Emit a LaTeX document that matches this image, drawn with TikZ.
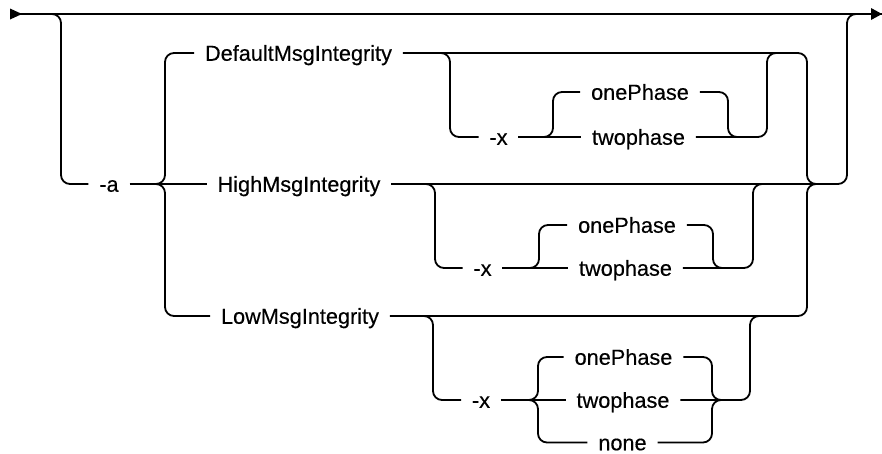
\documentclass[tikz,border=0pt]{standalone}
\usepackage{fontspec}
\setmainfont{Liberation Sans}
\newfontfamily\lblfont{Liberation Sans}[FakeBold=0.35]
\begin{document}
\begin{tikzpicture}[x=1pt,y=-1pt, line width=1.8pt,
  rc/.style={rounded corners=9pt},
  lbl/.style={font=\lblfont\fontsize{21.7}{26}\selectfont, text height=15.5pt, text depth=0pt, inner xsep=10pt, inner ysep=0pt, anchor=center}]
\useasboundingbox (0,0) rectangle (882,453);
% main line with arrowheads
\coordinate (s) at (10,14);
\coordinate (e) at (882,14);
\draw (s) -- (e);
\fill (10,8.5) -- (22,14) -- (10,19.5) -- cycle;
\fill (871,8) -- (882,14) -- (871,20) -- cycle;
% texts
\node[lbl] (a) at (109,184) {-a};
\node[lbl] (d) at (298.5,53) {DefaultMsgIntegrity};
\node[lbl] (h) at (299,184) {HighMsgIntegrity};
\node[lbl] (l) at (300,316) {LowMsgIntegrity};
\node[lbl] (dx) at (498.5,137) {-x};
\node[lbl] (d1) at (640,92) {onePhase};
\node[lbl] (d2) at (638.5,137) {twophase};
\node[lbl] (hx) at (482.5,268) {-x};
\node[lbl] (h1) at (627,225) {onePhase};
\node[lbl] (h2) at (625.5,268) {twophase};
\node[lbl] (lx) at (481,400) {-x};
\node[lbl] (l1) at (623.5,357) {onePhase};
\node[lbl] (l2) at (623,400) {twophase};
\node[lbl] (l3) at (622.5,442.5) {none};
% junction coordinates
\coordinate (lt) at (155,184);
\coordinate (rt) at (817,184);
\coordinate (lt2) at (528,400);
\coordinate (rt2) at (722,400);
% outer optional loop
\draw[rc] (30,14) -| (61,184) -- (a.west);
\draw[rc] (rt) -| (847,14) -- (865,14);
% -a choice group
\draw (a.east) -- (h.west);
\draw[rc] (lt) -| (165,53) -- (d.west);
\draw[rc] (lt) -| (165,316) -- (l.west);
\draw[rc] (d.east) -| (807,184) -- (rt);
\draw[rc] (l.east) -| (807,184) -- (rt);
\draw (h.east) -- (rt);
% Default -x
\draw[rc] (420,53) -| (450,137) -- (dx.west);
\draw (dx.east) -- (d2.west);
\draw[rc] (543,137) -| (553,92) -- (d1.west);
\draw[rc] (d1.east) -| (728,137) -- (738,137);
\draw[rc] (d2.east) -| (767,53) -- (777,53);
% High -x
\draw[rc] (420,184) -| (435,268) -- (hx.west);
\draw (hx.east) -- (h2.west);
\draw[rc] (529,268) -| (539,225) -- (h1.west);
\draw[rc] (h1.east) -| (713,268) -- (723,268);
\draw[rc] (h2.east) -| (753,184) -- (763,184);
% Low -x
\draw[rc] (420,316) -| (433,400) -- (lx.west);
\draw (lx.east) -- (l2.west);
\draw[rc] (lt2) -| (538,357) -- (l1.west);
\draw[rc] (lt2) -| (538,442.5) -- (l3.west);
\draw[rc] (l1.east) -| (712,400) -- (rt2);
\draw[rc] (l3.east) -| (712,400) -- (rt2);
\draw[rc] (l2.east) -| (750,316) -- (765,316);
\end{tikzpicture}
\end{document}
